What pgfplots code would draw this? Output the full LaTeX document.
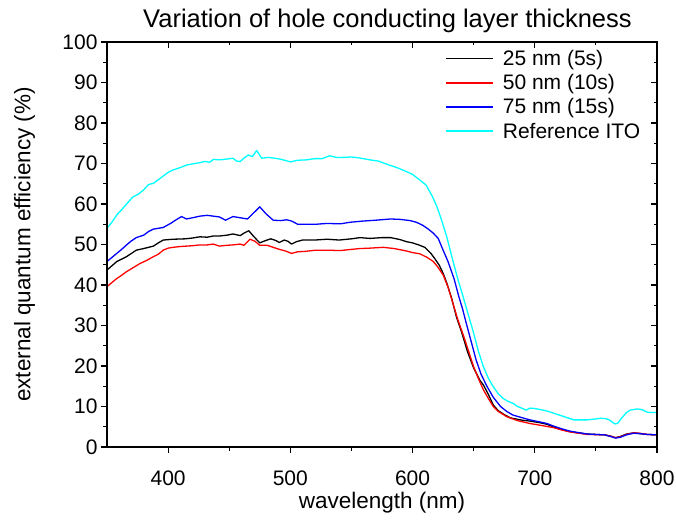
\documentclass[border=0pt]{standalone}
\usepackage{fontspec}
\setmainfont{Liberation Sans}
\usepackage{pgfplots}
\pgfplotsset{compat=1.18}
\definecolor{cyanref}{RGB}{0,255,255}
\definecolor{redc}{RGB}{255,0,0}
\definecolor{bluec}{RGB}{0,0,255}
\begin{document}
\begin{tikzpicture}
\pgfplotsset{
  common/.style={
    scale only axis, width=550bp, height=405bp,
    xmin=350, xmax=800, ymin=0, ymax=100,
    xtick={400,500,600,700,800}, ytick={0,10,...,100},
    minor x tick num=1, minor y tick num=1,
    major tick length=6bp, minor tick length=3.5bp,
    every tick/.style={line width=1.1bp, black},
    axis line style={line width=1.2bp},
    /pgf/number format/assume math mode=true,
    ticklabel style={font=\fontsize{21bp}{24bp}\selectfont},
  }
}
\begin{axis}[common,
  tick pos=left, tick align=outside,
  xticklabel={\rule{0pt}{29bp}\pgfmathprintnumber{\tick}},
  xlabel={wavelength (nm)},
  ylabel={external quantum efficiency (\%)},
  title={Variation of hole conducting layer thickness},
  xlabel style={font=\fontsize{22.5bp}{26bp}\selectfont, at={(axis description cs:0.5,-0.137)}, anchor=center},
  ylabel style={font=\fontsize{22.5bp}{26bp}\selectfont, at={(axis description cs:-0.15,0.5)}, anchor=center},
  title style={font=\fontsize{25.5bp}{29bp}\selectfont, at={(axis description cs:0.51,1.038)}, anchor=center},
  legend style={at={(rel axis cs:0.615,0.985)}, anchor=north west, draw=none, fill=none,
    font=\fontsize{21bp}{24bp}\selectfont, row sep=3.5bp, column sep=7bp, inner sep=0pt,
    cells={anchor=west}},
  legend image code/.code={\draw[#1, line width=1.4bp] (0bp,0bp) -- (47bp,0bp);},
  every axis plot/.append style={line width=1.3bp, line join=round},
]
\addplot[black] coordinates {
(350,43.7) (355,45.0) (358,45.8) (362,46.4) (366,47.0) (370,47.8) (374,48.6) (380,49.0)
(388,49.6) (392,50.4) (396,51.1) (404,51.3) (414,51.4) (420,51.6) (426,51.9) (432,51.8)
(437,52.1) (442,52.1) (448,52.3) (453,52.6) (459,52.2) (462,52.8) (466,53.4) (470,52.0)
(475,50.4) (480,51.0) (484,51.4) (488,51.0) (491,50.5) (495,51.1) (498,50.8) (501,50.1)
(505,50.7) (510,51.1) (520,51.1) (530,51.3) (540,51.1) (550,51.4) (557,51.7) (565,51.5)
(575,51.7) (582,51.7) (590,51.2) (595,50.7) (600,50.4) (605,49.9) (610,49.3) (615,47.8)
(618,46.6) (622,44.8) (625,42.9) (628,40.5) (632,36.7) (636,32.0) (640,28.5) (645,23.5)
(650,19.5) (655,16.5) (658,15.3) (662,13.0) (666,10.4) (670,9.0) (675,8.0) (680,7.2)
(690,6.6) (696,6.4) (704,6.0) (710,5.6) (715,5.0) (722,4.3) (729,3.8) (735,3.5)
(743,3.2) (750,3.1) (757,3.0) (762,2.7) (766,2.3) (770,2.6) (775,3.2) (781,3.5)
(786,3.3) (792,3.1) (800,3.0)
};
\addlegendentry{25 nm (5s)}
\addplot[redc] coordinates {
(350,39.6) (354,40.6) (358,41.6) (362,42.4) (366,43.3) (371,44.2) (377,45.3) (382,46.0)
(388,47.0) (392,47.6) (396,48.6) (400,49.1) (404,49.3) (410,49.5) (415,49.6) (420,49.7)
(426,49.9) (432,49.9) (437,50.1) (442,49.6) (448,49.8) (453,49.9) (459,50.1) (462,49.8)
(467,51.3) (471,50.8) (475,49.8) (481,49.8) (486,49.3) (491,48.8) (496,48.4) (501,47.8)
(506,48.2) (512,48.3) (521,48.6) (530,48.6) (541,48.5) (550,48.8) (557,49.0) (565,49.1)
(576,49.3) (585,49.0) (595,48.4) (600,48.0) (606,47.7) (612,46.8) (617,45.8) (621,44.3)
(625,42.5) (629,39.5) (633,35.5) (637,31.5) (642,27.2) (646,23.5) (650,19.8) (654,16.8)
(658,14.1) (662,12.0) (666,10.0) (670,8.8) (677,7.5) (686,6.5) (696,5.8) (704,5.4)
(715,4.8) (722,4.2) (729,3.7) (743,3.1) (757,3.0) (763,2.6) (766,2.3) (770,2.5)
(776,3.2) (781,3.5) (786,3.4) (792,3.1) (800,3.0)
};
\addlegendentry{50 nm (10s)}
\addplot[bluec] coordinates {
(350,45.8) (354,46.8) (358,47.8) (362,48.8) (366,49.9) (370,50.9) (374,51.7) (380,52.3)
(384,53.2) (388,53.8) (392,54.0) (396,54.2) (402,55.2) (406,56.0) (411,56.9) (415,56.3)
(420,56.6) (426,57.0) (432,57.2) (437,57.0) (442,56.8) (447,56.0) (453,56.9) (459,56.6)
(465,56.3) (470,57.8) (475,59.3) (480,57.6) (486,56.0) (492,55.9) (497,56.1) (501,55.8)
(506,55.0) (512,55.0) (521,55.0) (530,55.2) (541,55.1) (549,55.5) (560,55.8) (570,56.0)
(582,56.3) (590,56.2) (598,55.9) (603,55.5) (608,54.8) (612,54.0) (617,52.8) (621,51.5)
(625,48.6) (629,45.8) (634,41.5) (638,37.0) (641,34.0) (644,30.5) (648,26.0) (652,21.5)
(656,18.0) (661,14.9) (666,12.3) (672,10.0) (677,8.8) (682,7.9) (690,7.2) (696,6.7)
(704,6.2) (710,5.8) (715,5.2) (722,4.5) (729,3.9) (743,3.2) (757,3.0) (762,2.6)
(766,2.2) (770,2.4) (775,3.0) (781,3.4) (786,3.3) (792,3.1) (800,3.0)
};
\addlegendentry{75 nm (15s)}
\addplot[cyanref] coordinates {
(350,54.0) (354,55.5) (358,57.3) (362,58.6) (366,60.0) (371,61.7) (376,62.5) (380,63.5)
(384,64.8) (388,65.1) (392,66.0) (396,66.9) (400,67.8) (404,68.4) (410,69.0) (415,69.6)
(420,69.9) (426,70.2) (430,70.5) (434,70.3) (437,71.0) (442,70.9) (448,71.1) (453,71.3)
(456,70.6) (459,70.5) (462,71.3) (465.6,72.1) (469,71.7) (472.5,73.2) (476.6,71.3) (482,71.5)
(487.5,71.3) (493,71.0) (500,70.4) (506,70.8) (513,70.9) (520,71.2) (526,71.2) (532,71.9)
(538,71.5) (542,71.5) (550,71.6) (556,71.4) (565,70.9) (572,70.6) (581,69.6) (588,68.9)
(595,68.0) (600,67.3) (606,65.9) (611,64.7) (616,62.0) (620,59.3) (624,55.8) (628,51.9)
(633,46.0) (637,41.5) (641,37.5) (645,33.3) (650,28.1) (654,23.5) (658,19.8) (662,17.0)
(666,14.9) (670,13.2) (674,12.0) (678,11.3) (682,10.8) (686,10.0) (690,9.5) (693,9.1)
(696,9.6) (700,9.5) (707,9.1) (712,8.7) (718,8.1) (725,7.4) (732,6.7) (738,6.7)
(743,6.7) (749,6.9) (754,7.1) (758,7.0) (761,6.7) (764,6.0) (766,5.7) (768,5.9)
(771,7.1) (775,8.5) (778,9.1) (784,9.4) (788,9.2) (792,8.6) (796,8.5) (800,8.5)
};
\addlegendentry{Reference ITO}
\end{axis}
\begin{axis}[common,
  tick pos=right, tick align=inside,
  xticklabels={}, yticklabels={},
]
\end{axis}
\pgfresetboundingbox
\path (current axis.south west) ++(-107bp,-78bp) rectangle ++(676bp,525bp);
\end{tikzpicture}
\end{document}
